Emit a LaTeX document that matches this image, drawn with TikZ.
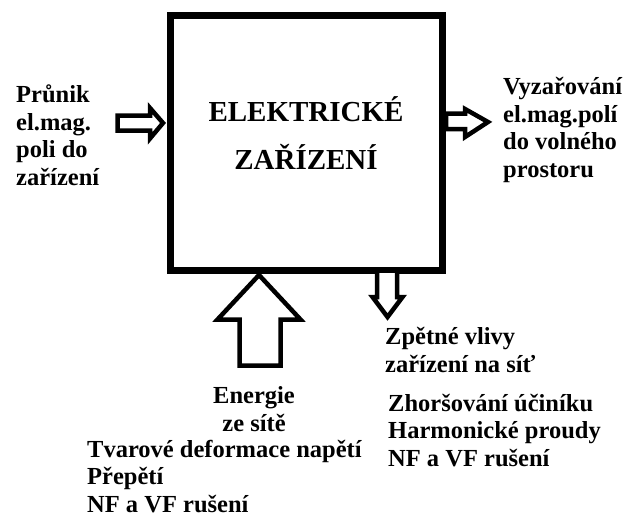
\documentclass[tikz,border=0pt]{standalone}
\usepackage{fontspec}
\setmainfont{Liberation Serif}
\begin{document}
\begin{tikzpicture}[x=1pt,y=-1pt,
  lbl/.style={font=\bfseries\fontsize{24.5}{27.5}\selectfont, inner sep=0pt, align=left, anchor=base west},
  blockarrow/.style={draw, line width=4.5pt, fill=white, line join=miter, miter limit=4}]
\useasboundingbox (0,0) rectangle (628,517);
% main box
\node[draw, line width=7pt, minimum width=272pt, minimum height=255pt, inner sep=0pt] (dev) at (306,142.5) {};
\node[font=\bfseries\fontsize{29}{48}\selectfont, align=center, inner sep=0pt, anchor=base] (title) at (306,169) {ELEKTRICKÉ\\ZAŘÍZENÍ};
% left arrow (in)
\draw[blockarrow] (117.5,115.5) -- (150,115.5) -- (150,108) -- (163,123) -- (150,138.5) -- (150,130.5) -- (117.5,130.5) -- cycle;
% right arrow (out)
\draw[blockarrow] (446,113.5) -- (465,113.5) -- (465,109) -- (488,122) -- (465,137) -- (465,129) -- (446,129) -- cycle;
% big up arrow
\draw[blockarrow] (239.5,365.5) -- (239.5,319.5) -- (217.5,319.5) -- (259,275) -- (300.5,319.5) -- (280.5,319.5) -- (280.5,365.5) -- cycle;
% small down arrow
\draw[blockarrow] (377,273) -- (377,297) -- (372.5,297) -- (387.5,317) -- (402.5,297) -- (397,297) -- (397,273);
% labels (anchored at the baseline of their last line)
\node[lbl] (inlbl) at (16,185) {Průnik\\el.mag.\\poli do\\zařízení};
\node[lbl] (outlbl) at (503,177) {Vyzařování\\el.mag.polí\\do volného\\prostoru};
\node[lbl, align=center, anchor=base] (energy) at (254,431) {Energie\\ze sítě};
\node[lbl] (netlbl) at (87,512) {Tvarové deformace napětí\\Přepětí\\NF a VF rušení};
\node[lbl] (backlbl) at (385,372) {Zpětné vlivy\\zařízení na síť};
\node[lbl] (efflbl) at (388,466) {Zhoršování účiníku\\Harmonické proudy\\NF a VF rušení};
\end{tikzpicture}
\end{document}
